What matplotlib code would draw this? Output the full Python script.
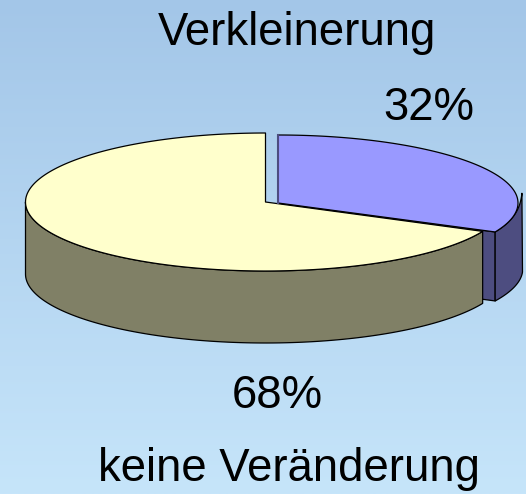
import numpy as np
import matplotlib
matplotlib.use('Agg')
import matplotlib.pyplot as plt

labels = ['Verkleinerung', 'keine Veränderung']
shares = [32, 68]

plt.rcParams['font.family'] = ['Liberation Sans', 'DejaVu Sans']

W, H = 526, 494
fig = plt.figure(figsize=(W / 100, H / 100), dpi=100)
ax = fig.add_axes([0, 0, 1, 1])
ax.set_xlim(0, W)
ax.set_ylim(H, 0)
ax.axis('off')

# Hintergrund: Verlauf von oben nach unten
top = np.array([163, 198, 232]) / 255
bottom = np.array([198, 229, 250]) / 255
grad = np.linspace(0, 1, 256)[:, None, None]
bg = top + (bottom - top) * grad
ax.imshow(bg, extent=[0, W, H, 0], aspect='auto', zorder=0)

# Geometrie der Torte
split = shares[0] / sum(shares) * 360


def rim(cx, cy, rx, ry, a, b):
    t = np.radians(np.linspace(a, b, 200))
    return cx + rx * np.sin(t), cy - ry * np.cos(t)


line = dict(edgecolor='black', linewidth=0.9, joinstyle='round')

# abgerueckter Teil (32%)
cx1, cy1, rx1, ry1 = 278, 203, 240, 68
depth1 = 69
xs, ys = rim(cx1, cy1, rx1, ry1, split, 86)
k = ((split - np.linspace(split, 86, 200)) / (split - 86)) ** 3
xs = xs + 4.5 * k
ys = ys - 5 * k
xb, yb = rim(cx1, cy1, rx1, ry1, split, 90)
kb = np.linspace(0, 1, 200)
xb = xb + 4.5 * kb
ex, ey = rim(cx1, cy1, rx1, ry1, split, split)
ax.fill([cx1, ex[0], ex[0], cx1], [cy1, ey[0], ey[0] + depth1, cy1 + depth1],
        facecolor='#4D4D80', zorder=2, **line)
ax.fill(np.r_[xs, xb[::-1]], np.r_[ys, yb[::-1] + depth1],
        facecolor='#4D4D80', zorder=2, **line)

# grosser Teil (68%)
cx2, cy2, rx2, ry2 = 265.5, 202, 240, 69
depth2 = 72
xo, yo = rim(cx2, cy2, rx2, ry2, split, 270)
ax.fill(np.r_[xo, xo[::-1]], np.r_[yo, yo[::-1] + depth2],
        facecolor='#808066', zorder=3, **line)
xt, yt = rim(cx2, cy2, rx2, ry2, split, 360)
ax.fill(np.r_[cx2, xt], np.r_[cy2, yt], facecolor='#FFFFCC', zorder=4, **line)

xp, yp = rim(cx1, cy1, rx1, ry1, 0, split)
ax.fill(np.r_[cx1, xp], np.r_[cy1, yp], facecolor='#9999FF', zorder=5, **line)
ax.plot([cx1 - 0.5, cx1 - 0.5], [cy1, cy1 - ry1], color='#4D4D80', lw=1.5, zorder=6)

# Beschriftung
fs = 32.8
ax.text(297, 33, labels[0], fontsize=fs, ha='center', va='center', color='black', zorder=7)
ax.text(429, 108, f'{shares[0]}%', fontsize=fs, ha='center', va='center', color='black', zorder=7)
ax.text(277, 396, f'{shares[1]}%', fontsize=fs, ha='center', va='center', color='black', zorder=7)
ax.text(289, 469, labels[1], fontsize=fs, ha='center', va='center', color='black', zorder=7)

fig.savefig('out.png', dpi=100)
